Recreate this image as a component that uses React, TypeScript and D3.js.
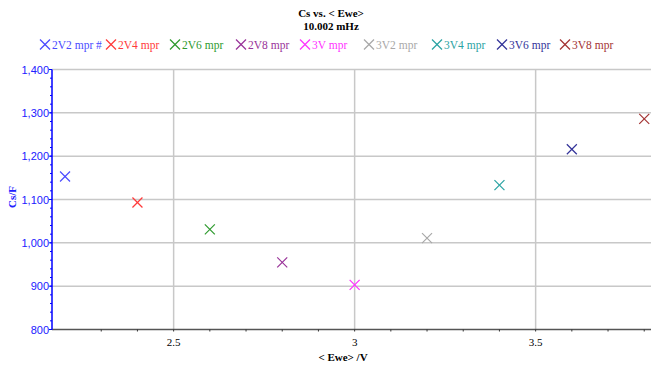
import React from "react";
import * as d3 from "d3";

const seriesNames = ["2V2 mpr #", "2V4 mpr", "2V6 mpr", "2V8 mpr", "3V mpr", "3V2 mpr", "3V4 mpr", "3V6 mpr", "3V8 mpr"];
const eweValues = [2.2, 2.4, 2.6, 2.8, 3.0, 3.2, 3.4, 3.6, 3.8];
const csValues = [1153, 1093, 1031, 955, 903, 1011, 1133, 1216, 1286];
const seriesColors = ["#4a4aff", "#ff3a3a", "#2e9a2e", "#993399", "#ff33ff", "#a8a8a8", "#2aa3a3", "#333399", "#a33333"];
const legendX = [40, 106, 170, 236, 300, 364, 432, 497, 560];
const yTicks = [800, 900, 1000, 1100, 1200, 1300, 1400];
const xTicks = [2.5, 3, 3.5];

const W = 652, H = 367;
const left = 52, right = 651, top = 69.5, bottom = 329.5;

export default function App() {
  const x = d3.scaleLinear().domain([2.164, 2.164 + (right - left) / 362]).range([left, right]);
  const y = d3.scaleLinear().domain([800, 1400]).range([bottom, top]);
  const yMinor = d3.range(800, 1401, 20);
  const xMinor = d3.range(23, 39).map((v) => v / 10).filter((v) => x(v) >= left && x(v) <= right);
  const fmt = d3.format(",");
  const cross = (cx: number, cy: number, s: number, color: string, key: string) => (
    <g key={key} stroke={color} strokeWidth={1.2}>
      <line x1={cx - s} y1={cy - s} x2={cx + s} y2={cy + s} />
      <line x1={cx - s} y1={cy + s} x2={cx + s} y2={cy - s} />
    </g>
  );
  return (
    <svg width={W} height={H} style={{ position: "absolute", left: 0, top: 0, background: "#fff" }}>
      <rect width={W} height={H} fill="#fff" />
      {/* title */}
      <text x={331} y={17} textAnchor="middle" fontFamily="Liberation Serif" fontWeight="bold" fontSize={11}>Cs vs. &lt; Ewe&gt;</text>
      <text x={331} y={30} textAnchor="middle" fontFamily="Liberation Serif" fontWeight="bold" fontSize={11}>10.002 mHz</text>
      {/* legend */}
      {seriesNames.map((n, i) => (
        <g key={n}>
          {cross(legendX[i] + 5, 44.5, 5, seriesColors[i], "l" + i)}
          <text x={legendX[i] + 12} y={49} fontFamily="Liberation Serif" fontSize={11.5} fill={seriesColors[i]}>{n}</text>
        </g>
      ))}
      {/* grid */}
      {yTicks.filter((t) => t > 800).map((t) => (
        <line key={"gy" + t} x1={left} x2={right} y1={y(t)} y2={y(t)} stroke="#c8c8c8" strokeWidth={1.5} />
      ))}
      {xTicks.map((t) => (
        <line key={"gx" + t} x1={x(t)} x2={x(t)} y1={top} y2={bottom} stroke="#c8c8c8" strokeWidth={1.5} />
      ))}
      {/* x axis */}
      <line x1={left} x2={right} y1={bottom} y2={bottom} stroke="#555" strokeWidth={1.5} />
      {xMinor.map((t) => (
        <line key={"xm" + t} x1={x(t)} x2={x(t)} y1={bottom} y2={bottom + 2} stroke="#333" strokeWidth={1} />
      ))}
      {xTicks.map((t) => (
        <text key={"xl" + t} x={x(t)} y={346} textAnchor="middle" fontFamily="Liberation Serif" fontSize={11}>{String(t)}</text>
      ))}
      <text x={343} y={361} textAnchor="middle" fontFamily="Liberation Serif" fontWeight="bold" fontSize={11}>&lt; Ewe&gt; /V</text>
      {/* y axis */}
      <line x1={left} x2={left} y1={top} y2={bottom} stroke="#0000ff" strokeWidth={1.5} />
      {yMinor.map((t) => (
        <line key={"ym" + t} x1={left - 2} x2={left} y1={y(t)} y2={y(t)} stroke="#0000ff" strokeWidth={1} />
      ))}
      {yTicks.map((t) => (
        <line key={"yt" + t} x1={left - 3} x2={left} y1={y(t)} y2={y(t)} stroke="#0000ff" strokeWidth={1} />
      ))}
      {yTicks.map((t) => (
        <text key={"yl" + t} x={left - 3} y={y(t) + 4} textAnchor="end" fontFamily="Liberation Sans" fontSize={11} fill="#2020ff">{fmt(t)}</text>
      ))}
      <text transform={`translate(16,197) rotate(-90)`} textAnchor="middle" fontFamily="Liberation Serif" fontWeight="bold" fontSize={11} fill="#2020ff">Cs/F</text>
      {/* points */}
      {eweValues.map((v, i) => cross(x(v), y(csValues[i]), 5, seriesColors[i], "p" + i))}
    </svg>
  );
}
